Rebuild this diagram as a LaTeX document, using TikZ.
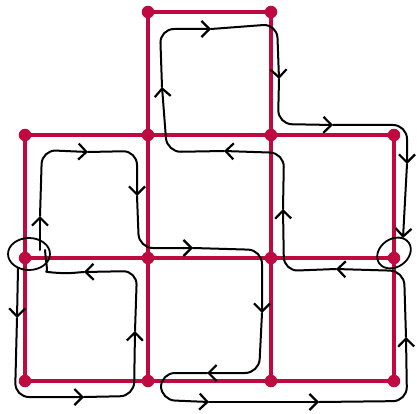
\documentclass[tikz,border=0pt]{standalone}
\usetikzlibrary{arrows.meta}
\definecolor{crim}{RGB}{190,10,65}
\begin{document}
\begin{tikzpicture}[x=1pt,y=-1pt,
  edge/.style={draw=crim,line width=4pt},
  vtx/.style={circle,fill=crim,inner sep=0pt,minimum size=12.5pt},
  str/.style={draw=black,line width=2pt,line cap=round,line join=round,rounded corners=14pt},
  arr/.style={str,-{Straight Barb[length=8pt,width=16pt,line width=2.2pt]}},
  ring/.style={draw=black,line width=1.8pt}]
\useasboundingbox (0,0) rectangle (417,414);
% lattice positions
\coordinate (t2) at (148,12);
\coordinate (t3) at (271,12);
\foreach \r/\yy in {1/135,2/258,3/381}{
  \foreach \c/\xx in {1/25,2/148,3/271,4/394}{
    \coordinate (p\r\c) at (\xx,\yy);
  }
}
% lattice edges
\draw[edge] (t2) -- (t3);
\draw[edge] (t2) -- (p12) (t3) -- (p13);
\foreach \r in {1,2,3}{\draw[edge] (p\r1) -- (p\r4);}
\foreach \c in {1,2,3,4}{\draw[edge] (p1\c) -- (p3\c);}
% vertices
\node[vtx] (v02) at (t2) {};
\node[vtx] (v03) at (t3) {};
\foreach \r in {1,2,3}{\foreach \c in {1,2,3,4}{\node[vtx] (v\r\c) at (p\r\c) {};}}
% rings
\draw[ring] (29,254) ellipse [x radius=21, y radius=16];
\draw[ring,rotate around={35:(394,253)}] (394,253) ellipse [x radius=18, y radius=14];
% main string
\draw[arr] (40,250) -- (40,216);
\draw[arr] (40,216) -- (42,150) -- (88,152);
\draw[arr] (88,152) -- (137,151) -- (137,196);
\draw[arr] (137,196) -- (139,248) -- (193,248);
\draw[arr] (193,248) -- (262,250) -- (262,313);
\draw[arr] (262,313) -- (259,373) -- (207,373);
\draw[arr] (207,373) -- (161,373) -- (161,400) -- (209,402);
\draw[arr] (209,402) -- (319,402);
\draw[arr] (319,402) -- (407,401) -- (406,337);
\draw[arr] (406,337) -- (404,271) -- (336,269);
\draw[arr] (336,269) -- (284,271) -- (283,209);
\draw[arr] (283,209) -- (284,153) -- (224,151);
\draw[arr] (224,151) -- (167,152) -- (162,87);
\draw[arr] (162,87) -- (160,29) -- (211,29);
\draw[arr] (211,29) -- (277,24) -- (279,79);
\draw[arr] (279,79) -- (278,124) -- (333,125);
\draw[arr] (333,125) -- (407,125) -- (407,164);
\draw[arr] (407,164) -- (403,238);
% lower-left string
\draw[arr] (18,268) -- (17,318);
\draw[arr] (17,318) -- (15,397) -- (84,397);
\draw[arr] (84,397) -- (134,396) -- (135,331);
\draw[arr] (135,331) -- (137,271) -- (84,272);
\draw[str] (84,272) -- (60,274) .. controls (48,272) and (46,262) .. (45,250);
\end{tikzpicture}
\end{document}
